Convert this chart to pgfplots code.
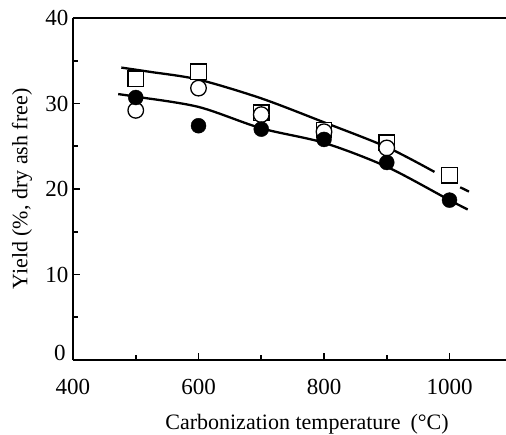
\documentclass[border=0pt]{standalone}
\usepackage{pgfplots}
\pgfplotsset{compat=1.18}
\usepackage{fontspec}
\setmainfont{Liberation Serif}

\begin{document}
\begin{tikzpicture}[x=1pt,y=1pt]
\begin{axis}[
  name=ax,
  scale only axis,
  width=433pt, height=342pt,
  xmin=400, xmax=1090,
  ymin=0, ymax=40,
  axis x line*=box,
  axis y line*=left,
  axis line style={line width=2pt},
  xtick={400,600,800,1000},
  minor xtick={500,700,900},
  ytick={10,20,30,40},
  minor ytick={5,15,25,35},
  xtick pos=bottom,
  ytick pos=left,
  tick align=inside,
  major tick length=7pt,
  minor tick length=5pt,
  every tick/.style={line width=1.6pt,black},
  tick label style={font=\fontsize{23}{25}\selectfont},
  /pgf/number format/assume math mode=true,
  /pgf/number format/1000 sep={},
  xticklabel style={yshift=-16pt},
  yticklabel style={xshift=-1pt},
  clip=false,
]
% fitted trends
\addplot[line width=2.3pt, smooth, tension=0.5] coordinates {
  (477,34.2) (523,33.7) (600,32.8) (700,30.6) (800,27.8) (900,24.9) (976,22.0)};
\addplot[line width=2.3pt] coordinates {(1017,20.2) (1031,19.7)};
\addplot[line width=2.3pt, smooth, tension=0.5] coordinates {
  (472,31.1) (500,30.8) (600,29.6) (700,27.1) (800,25.4) (900,22.6) (1000,18.7) (1029,17.6)};
% measured yields
\addplot[only marks, mark=square*, mark size=7.8pt,
  mark options={fill=white, draw=black, line width=1.3pt}] coordinates {
  (500,32.9) (600,33.7) (700,28.9) (800,26.9) (900,25.4) (1000,21.6)};
\addplot[only marks, mark=*, mark size=7.8pt,
  mark options={fill=white, draw=black, line width=1.3pt}] coordinates {
  (500,29.2) (600,31.8) (700,28.7) (800,26.7) (900,24.8)};
\addplot[only marks, mark=*, mark size=7.5pt,
  mark options={fill=black, draw=black}] coordinates {
  (500,30.7) (600,27.4) (700,27.0) (800,25.8) (900,23.1) (1000,18.7)};
\node[font=\fontsize{23}{25}\selectfont] at ([xshift=-13pt,yshift=7pt]rel axis cs:0,0) {0};
\end{axis}
\node[font=\fontsize{22}{24}\selectfont, anchor=center]
  at ([xshift=234pt,yshift=-64pt]ax.south west) {Carbonization temperature\hspace{10pt}(°C)};
\node[font=\fontsize{22}{24}\selectfont, rotate=90, anchor=center]
  at ([xshift=-51pt]ax.west) {Yield (\%, dry ash free)};
\pgfresetboundingbox
\path[use as bounding box] ([xshift=-73pt,yshift=-74pt]ax.south west) rectangle ([yshift=18pt]ax.north east);
\end{tikzpicture}
\end{document}
